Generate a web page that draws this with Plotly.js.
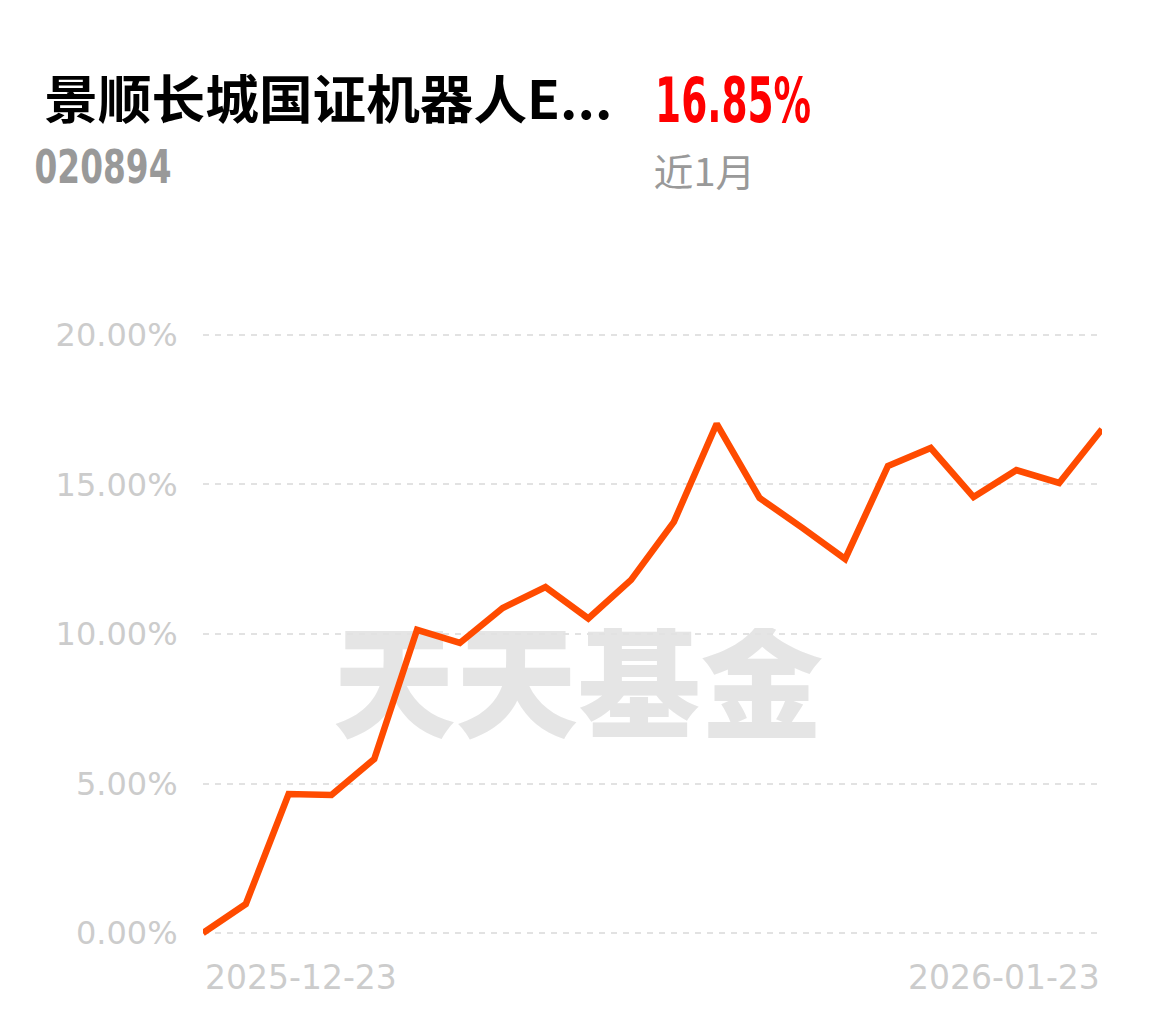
<!DOCTYPE html>
<html>
<head>
<meta charset="utf-8">
<script src="https://cdn.plot.ly/plotly-3.0.1.min.js"></script>
<style>
html,body{margin:0;padding:0;background:#fff;}
#chart{width:1155px;height:1023px;}
</style>
</head>
<body>
<div id="chart"></div>
<script>
// ---- data ----
const fundName = "景顺长城国证机器人E...";
const fundCode = "020894";
const periodLabel = "近1月";
const periodReturn = "16.85%";
const dates = ["2025-12-23","2025-12-24","2025-12-25","2025-12-26","2025-12-29","2025-12-30","2025-12-31",
  "2026-01-05","2026-01-06","2026-01-07","2026-01-08","2026-01-09",
  "2026-01-12","2026-01-13","2026-01-14","2026-01-15","2026-01-16",
  "2026-01-19","2026-01-20","2026-01-21","2026-01-22","2026-01-23"];
const returns = [0.00, 0.97, 4.65, 4.62, 5.82, 10.14, 9.70, 10.87, 11.57, 10.52, 11.81,
  13.75, 17.03, 14.55, 13.55, 12.51, 15.62, 16.22, 14.58, 15.48, 15.05, 16.85];
const yTickVals = [0, 5, 10, 15, 20];
const yTickText = ["0.00%", "5.00%", "10.00%", "15.00%", "20.00%"];
const watermark = "天天基金";

// ---- layout geometry ----
const W = 1155, H = 1023;
const M = {l: 203, r: 53, t: 320, b: 75};
const PW = W - M.l - M.r, PH = H - M.t - M.b;
const px = x => (x - M.l) / PW;
const py = y => (H - M.b - y) / PH;

const wmSvg = '<svg xmlns="http://www.w3.org/2000/svg" width="490" height="112" viewBox="0 0 490 112">' +
  '<text x="0" y="100" font-family="Noto Sans CJK SC" font-weight="900" font-size="122" fill="#e5e5e5" ' +
  'textLength="490" lengthAdjust="spacingAndGlyphs">' + watermark + '</text></svg>';
const wmSrc = 'data:image/svg+xml;charset=utf-8,' + encodeURIComponent(wmSvg);

const trace = {
  x: dates, y: returns, type: 'scatter', mode: 'lines',
  line: {color: '#ff4b00', width: 6.5, shape: 'linear'},
  hoverinfo: 'skip'
};

const dv = "DejaVu Sans, sans-serif";
const cjk = "Noto Sans CJK SC, sans-serif";

// target text widths (px) for header annotations, applied after render
const textWidths = [568, 156, 137, 102, null, null];

const layout = {
  width: W, height: H,
  margin: M,
  paper_bgcolor: '#fff', plot_bgcolor: '#fff',
  showlegend: false,
  xaxis: {
    type: 'category', range: [0, dates.length - 1],
    showgrid: false, zeroline: false, showline: false,
    showticklabels: false, ticks: ''
  },
  yaxis: {
    range: [-0.5, 20.5],
    tickvals: yTickVals, ticktext: yTickText,
    showgrid: true, gridcolor: '#e2e2e2', gridwidth: 2, griddash: '6px,6px',
    zeroline: false, showline: false,
    ticks: 'outside', ticklen: 18, tickcolor: 'rgba(0,0,0,0)',
    tickfont: {family: dv, size: 32, color: '#cccccc'}
  },
  images: [{
    source: wmSrc, xref: 'paper', yref: 'paper',
    x: px(333), y: py(628), sizex: 490 / PW, sizey: 112 / PH,
    xanchor: 'left', yanchor: 'top', sizing: 'stretch', layer: 'below'
  }],
  annotations: [
    {text: fundName, xref: 'paper', yref: 'paper', x: px(328), y: py(97), xanchor: 'center', yanchor: 'middle',
     showarrow: false, font: {family: cjk, size: 52, color: '#000', weight: 700}},
    {text: periodReturn, xref: 'paper', yref: 'paper', x: px(733), y: py(100), xanchor: 'center', yanchor: 'middle',
     showarrow: false, font: {family: dv, size: 62, color: '#ff0000', weight: 700}},
    {text: fundCode, xref: 'paper', yref: 'paper', x: px(103), y: py(167), xanchor: 'center', yanchor: 'middle',
     showarrow: false, font: {family: dv, size: 46, color: '#999999', weight: 700}},
    {text: periodLabel, xref: 'paper', yref: 'paper', x: px(704), y: py(170), xanchor: 'center', yanchor: 'middle',
     showarrow: false, font: {family: cjk, size: 38, color: '#999999'}},
    {text: dates[0], xref: 'x', yref: 'paper', x: dates[0], y: py(977), xanchor: 'left', yanchor: 'middle',
     xshift: 0, showarrow: false, font: {family: dv, size: 33, color: '#cccccc'}},
    {text: dates[dates.length - 1], xref: 'x', yref: 'paper', x: dates[dates.length - 1], y: py(977),
     xanchor: 'right', yanchor: 'middle', xshift: 0, showarrow: false,
     font: {family: dv, size: 33, color: '#cccccc'}}
  ]
};

Plotly.newPlot('chart', [trace], layout, {staticPlot: true, displayModeBar: false}).then(gd => {
  gd.querySelectorAll('g.annotation').forEach(g => {
    const i = +g.getAttribute('data-index');
    const w = textWidths[i];
    if (!w) return;
    const t = g.querySelector('text.annotation-text');
    if (t) { t.setAttribute('textLength', w); t.setAttribute('lengthAdjust', 'spacingAndGlyphs'); }
  });
});
</script>
</body>
</html>
